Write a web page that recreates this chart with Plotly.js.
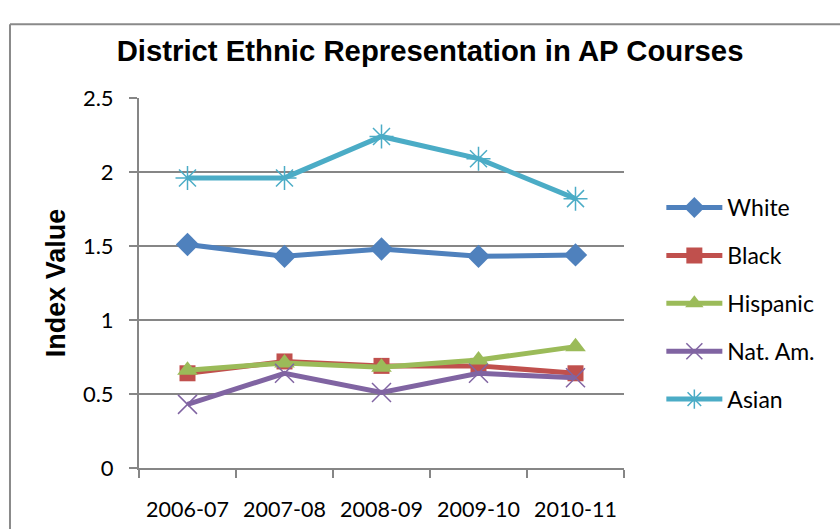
<!DOCTYPE html>
<html>
<head>
<meta charset="utf-8">
<script src="https://cdn.plot.ly/plotly-3.0.1.min.js"></script>
<style>
html,body{margin:0;padding:0;background:#fff;}
#chart{width:840px;height:529px;}
</style>
</head>
<body>
<div id="chart"></div>
<script>
const years = ["2006-07", "2007-08", "2008-09", "2009-10", "2010-11"];
const white = [1.51, 1.43, 1.48, 1.43, 1.44];
const black = [0.64, 0.72, 0.69, 0.69, 0.64];
const hispanic = [0.66, 0.71, 0.68, 0.73, 0.82];
const natAm = [0.43, 0.64, 0.51, 0.64, 0.61];
const asian = [1.96, 1.96, 2.24, 2.09, 1.82];
const yTicks = [0, 0.5, 1, 1.5, 2, 2.5];
const yTickText = ["0", "0.5", "1", "1.5", "2", "2.5"];

function tr(name, y, color, symbol, size, open) {
  return {
    type: "scatter", mode: "lines+markers", name: name, x: years, y: y,
    legendgroup: name,
    line: {color: color, width: 5},
    marker: open
      ? {symbol: symbol, size: size, color: color, line: {color: color, width: 1.5}}
      : {symbol: symbol, size: size, color: color}
  };
}

const data = [
  tr("White", white, "#4F81BD", "diamond", 18, false),
  tr("Black", black, "#C0504D", "square", 16, false),
  tr("Hispanic", hispanic, "#9BBB59", "triangle-up", 18, false),
  tr("Nat. Am.", natAm, "#8064A2", "x-thin-open", 19, true),
  tr("Asian", asian, "#4BACC6", "asterisk-open", 20, true)
];

const gray = "#868686";
const layout = {
  width: 840, height: 529,
  margin: {l: 139, r: 216, t: 98, b: 61},
  paper_bgcolor: "#fff", plot_bgcolor: "#fff",
  font: {family: "Lato, sans-serif", size: 21, color: "#000"},
  title: {text: "District Ethnic Representation in AP Courses",
          font: {family: "Liberation Sans, Arial, sans-serif", size: 29.3, weight: "bold", color: "#000"},
          x: 0.512, xanchor: "center", y: 0.905, yanchor: "middle"},
  xaxis: {
    type: "category", range: [-0.5, 4.5], showgrid: false, showline: true, linecolor: gray, linewidth: 2,
    ticks: "outside", tickson: "boundaries", ticklen: 8, tickcolor: gray, tickwidth: 2,
    ticklabelstandoff: 21, tickangle: 0,
    tickfont: {family: "Lato, sans-serif", size: 21.5, color: "#000"},
    fixedrange: true
  },
  yaxis: {
    range: [0, 2.5], tickvals: yTicks, ticktext: yTickText,
    showgrid: true, gridcolor: gray, gridwidth: 2,
    showline: true, linecolor: gray, linewidth: 2,
    ticks: "outside", ticklen: 8, tickcolor: gray, tickwidth: 2,
    ticklabelstandoff: 11,
    zeroline: false,
    tickfont: {family: "Lato, sans-serif", size: 22, color: "#000"},
    title: {text: "Index Value", standoff: 9,
            font: {family: "Liberation Sans, Arial, sans-serif", size: 27, weight: "bold", color: "#000"}},
    fixedrange: true
  },
  legend: {
    x: 1.077, xanchor: "left", y: 0.762, yanchor: "top",
    traceorder: "grouped", tracegroupgap: 15,
    font: {family: "Lato, sans-serif", size: 23, color: "#000"},
    bgcolor: "rgba(0,0,0,0)", itemwidth: 56
  },
  shapes: [
    {type: "line", xref: "paper", yref: "paper", x0: -0.266, x1: 1.5, y0: 1.199, y1: 1.199,
     line: {color: "#8a8a8a", width: 2}},
    {type: "line", xref: "paper", yref: "paper", x0: -0.266, x1: -0.266, y0: 1.199, y1: -0.2,
     line: {color: "#8a8a8a", width: 2}}
  ],
  showlegend: true
};

Plotly.newPlot("chart", data, layout, {displayModeBar: false, staticPlot: true});
</script>
</body>
</html>
